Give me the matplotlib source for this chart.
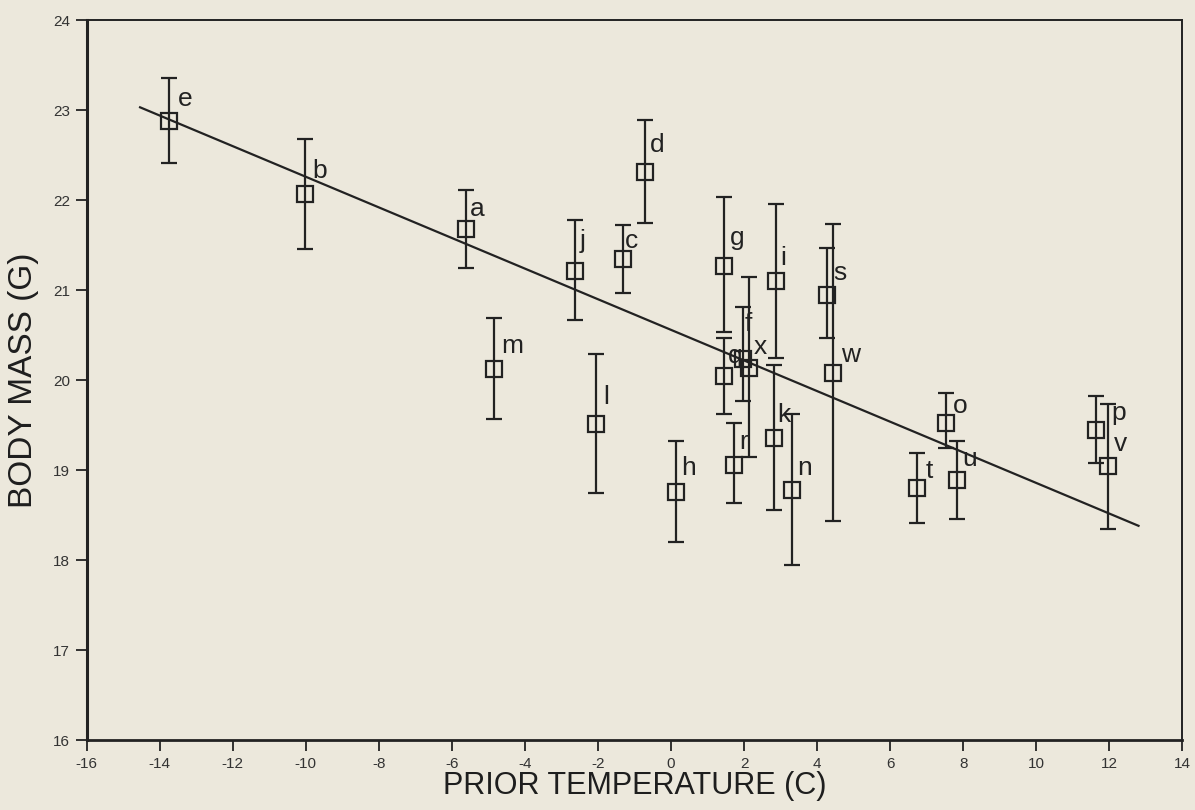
import matplotlib
matplotlib.use("Agg")
import matplotlib.pyplot as plt
from matplotlib import font_manager

# ---------------- data ----------------
labels = ["e", "b", "a", "m", "j", "l", "c", "d", "h", "q", "g", "r",
          "f", "x", "k", "i", "n", "s", "w", "t", "o", "u", "p", "v"]
temp = [-13.75, -10.02, -5.62, -4.85, -2.63, -2.05, -1.32, -0.71, 0.13, 1.44, 1.44, 1.73,
        1.98, 2.14, 2.83, 2.87, 3.30, 4.26, 4.44, 6.73, 7.52, 7.82, 11.64, 11.97]
mass = [22.88, 22.07, 21.68, 20.12, 21.21, 19.51, 21.34, 22.31, 18.76, 20.04, 21.27, 19.06,
        20.23, 20.13, 19.36, 21.10, 18.78, 20.95, 20.08, 18.80, 19.52, 18.89, 19.45, 19.04]
bar_low = [22.41, 21.46, 21.25, 19.57, 20.67, 18.74, 20.97, 21.75, 18.20, 19.62, 20.53, 18.63,
           19.77, 19.15, 18.56, 20.25, 17.94, 20.47, 18.43, 18.41, 19.25, 18.46, 19.08, 18.35]
bar_high = [23.36, 22.68, 22.11, 20.69, 21.78, 20.29, 21.72, 22.89, 19.32, 20.47, 22.03, 19.52,
            20.81, 21.14, 20.17, 21.96, 19.62, 21.47, 21.73, 19.19, 19.86, 19.32, 19.82, 19.73]
fit_x = [-14.54, 12.8]
fit_y = [23.03, 18.38]
x_ticks = list(range(-16, 15, 2))
y_ticks = list(range(16, 25))

# label offsets in pixels (position/style, not data)
label_offsets = {
    "e": (16, 22), "b": (14, 23), "a": (11, 20), "m": (18, 23), "j": (8, 30),
    "l": (10, 27), "c": (9, 18), "d": (12, 27), "h": (13, 24), "q": (12, 20),
    "g": (14, 28), "r": (9, 23), "f": (5, 35), "x": (11, 21), "k": (9, 23),
    "i": (7, 23), "n": (13, 22), "s": (13, 22), "w": (17, 18), "t": (12, 17),
    "o": (14, 17), "u": (13, 21), "p": (22, 17), "v": (12, 22),
}

# ---------------- fonts ----------------
available = {f.name for f in font_manager.fontManager.ttflist}
narrow = "Liberation Sans Narrow" if "Liberation Sans Narrow" in available else "Liberation Sans"
plt.rcParams["axes.unicode_minus"] = False
plt.rcParams["font.family"] = ["Liberation Sans", "DejaVu Sans"]

bg = "#ece8dc"
ink = "#222222"

fig = plt.figure(figsize=(11.95, 8.10), dpi=100, facecolor=bg)
ax = fig.add_axes([0.0726, 0.0864, 0.9168, 0.8889], facecolor=bg)

yerr = [[m - lo for m, lo in zip(mass, bar_low)], [hi - m for m, hi in zip(mass, bar_high)]]
ax.errorbar(temp, mass, yerr=yerr, fmt="s", mfc="none", mec=ink, mew=1.6, ms=11,
            ecolor=ink, elinewidth=1.6, capsize=5.5, capthick=1.6, zorder=3)
ax.plot(fit_x, fit_y, color=ink, lw=1.6, zorder=2)

for lab, x, y in zip(labels, temp, mass):
    dx, dy = label_offsets[lab]
    ax.annotate(lab, (x, y), xytext=(dx, dy), textcoords="offset pixels",
                ha="center", va="center", fontsize=19, color=ink,
                family=["Liberation Sans", "DejaVu Sans"], zorder=4)

ax.set_xlim(-16, 14)
ax.set_ylim(16, 24)
ax.set_xticks(x_ticks)
ax.set_yticks(y_ticks)
ax.set_xticklabels([str(t) for t in x_ticks], fontsize=11, color="#333333", family=[narrow, "DejaVu Sans"])
ax.set_yticklabels([str(t) for t in y_ticks], fontsize=11, color="#333333", family=[narrow, "DejaVu Sans"])
ax.tick_params(axis="both", direction="out", length=8, width=1.3, color=ink, pad=4)
ax.tick_params(right=False, top=False)
for sp in ax.spines.values():
    sp.set_color(ink)
    sp.set_linewidth(1.4)
ax.spines["left"].set_linewidth(2.2)
ax.spines["bottom"].set_linewidth(2.0)

ax.set_xlabel("PRIOR TEMPERATURE (C)", fontsize=22, color="#1e1e1e",
              family=[narrow, "DejaVu Sans"], labelpad=0)
ax.set_ylabel("BODY MASS (G)", fontsize=24, color="#1e1e1e",
              family=[narrow, "DejaVu Sans"], labelpad=10)

fig.savefig("out.png", dpi=100, facecolor=bg)
